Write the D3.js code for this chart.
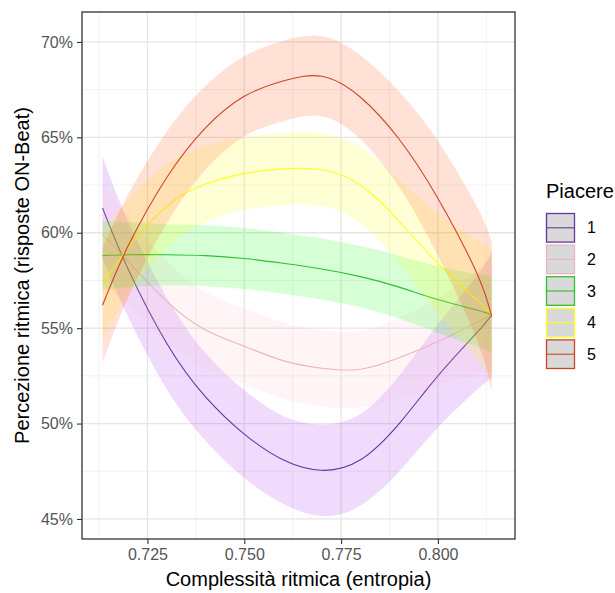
<!DOCTYPE html>
<html>
<head>
<meta charset="utf-8">
<script src="https://cdn.jsdelivr.net/npm/d3@7"></script>
<style>
  html, body { margin: 0; padding: 0; background: #ffffff; }
  svg { display: block; font-family: "Liberation Sans", Arial, sans-serif; }
</style>
</head>
<body>
<svg id="chart" width="615" height="593"></svg>
<script>
// ---- data ----
const xValues = [0.7134, 0.72, 0.73, 0.74, 0.75, 0.76, 0.77, 0.78, 0.79, 0.80, 0.81, 0.8139];
const groups = ["1", "2", "3", "4", "5"];
const lineColors = ["#5e3a9e", "#efb3bd", "#2fbf2f", "#ffff1a", "#cf4426"];
const fillColors = ["#a020f0", "#ffc0cb", "#00ff00", "#ffff00", "#ff4500"];

const fit1 = [61.3, 58.1, 54.2, 51.4, 49.45, 48.1, 47.55, 48.1, 50.0, 52.5, 54.75, 55.7];
const se1  = [2.7, 2.5, 2.4, 2.3, 2.3, 2.3, 2.4, 2.4, 2.5, 2.7, 3.0, 3.3];
const fit2 = [59.9, 58.5, 56.4, 54.9, 54.05, 53.3, 52.9, 52.85, 53.45, 54.3, 55.3, 55.7];
const se2  = [2.6, 2.3, 2.1, 2.0, 2.0, 2.0, 2.0, 2.0, 2.1, 2.3, 2.7, 3.1];
const fit3 = [58.8, 58.85, 58.85, 58.8, 58.65, 58.4, 58.1, 57.7, 57.15, 56.5, 55.95, 55.7];
const se3  = [1.8, 1.7, 1.6, 1.6, 1.6, 1.6, 1.6, 1.6, 1.65, 1.75, 1.9, 2.0];
const fit4 = [57.3, 59.2, 61.4, 62.55, 63.1, 63.35, 63.3, 62.5, 60.6, 58.4, 56.5, 55.7];
const se4  = [2.8, 2.5, 2.2, 2.0, 1.9, 1.9, 1.9, 2.0, 2.2, 2.6, 3.1, 3.5];
const fit5 = [56.2, 59.3, 62.9, 65.5, 67.15, 67.95, 68.2, 67.1, 64.9, 61.8, 57.9, 55.6];
const se5  = [3.0, 2.7, 2.4, 2.2, 2.1, 2.1, 2.1, 2.2, 2.5, 3.0, 3.5, 3.9];

const fits = [fit1, fit2, fit3, fit4, fit5];
const ses = [se1, se2, se3, se4, se5];

const xTicks = [0.725, 0.75, 0.775, 0.80];
const yTicks = [45, 50, 55, 60, 65, 70];
const xMinor = [0.7125, 0.7375, 0.7625, 0.7875, 0.8125];
const yMinor = [47.5, 52.5, 57.5, 62.5, 67.5];

const xTitle = "Complessità ritmica (entropia)";
const yTitle = "Percezione ritmica (risposte ON-Beat)";
const legendTitle = "Piacere";

// ---- layout ----
const panel = { left: 82, top: 12, right: 515, bottom: 539 };
const svg = d3.select("#chart");

const x = d3.scaleLinear().domain([0.7081, 0.8199]).range([panel.left, panel.right]);
const y = d3.scaleLinear().domain([43.95, 71.57]).range([panel.bottom, panel.top]);

svg.append("rect")
  .attr("x", panel.left).attr("y", panel.top)
  .attr("width", panel.right - panel.left).attr("height", panel.bottom - panel.top)
  .attr("fill", "#ffffff");

const grid = svg.append("g");
grid.selectAll(".xminor").data(xMinor).join("line")
  .attr("x1", d => x(d)).attr("x2", d => x(d))
  .attr("y1", panel.top).attr("y2", panel.bottom)
  .attr("stroke", "#ededed").attr("stroke-width", 0.8);
grid.selectAll(".yminor").data(yMinor).join("line")
  .attr("y1", d => y(d)).attr("y2", d => y(d))
  .attr("x1", panel.left).attr("x2", panel.right)
  .attr("stroke", "#ededed").attr("stroke-width", 0.8);
grid.selectAll(".xmajor").data(xTicks).join("line")
  .attr("x1", d => x(d)).attr("x2", d => x(d))
  .attr("y1", panel.top).attr("y2", panel.bottom)
  .attr("stroke", "#e5e5e5").attr("stroke-width", 1.3);
grid.selectAll(".ymajor").data(yTicks).join("line")
  .attr("y1", d => y(d)).attr("y2", d => y(d))
  .attr("x1", panel.left).attr("x2", panel.right)
  .attr("stroke", "#e5e5e5").attr("stroke-width", 1.3);

const area = d3.area().x(d => x(d.x)).y0(d => y(d.lo)).y1(d => y(d.hi)).curve(d3.curveNatural);
const line = d3.line().x(d => x(d.x)).y(d => y(d.fit)).curve(d3.curveNatural);

const marks = svg.append("g");
groups.forEach((g, i) => {
  const pts = xValues.map((xv, j) => ({ x: xv, fit: fits[i][j], lo: fits[i][j] - ses[i][j], hi: fits[i][j] + ses[i][j] }));
  marks.append("path").datum(pts)
    .attr("d", area)
    .attr("fill", fillColors[i]).attr("fill-opacity", 0.16);
  marks.append("path").datum(pts)
    .attr("d", line)
    .attr("fill", "none").attr("stroke", lineColors[i]).attr("stroke-width", 1.1);
});

svg.append("rect")
  .attr("x", panel.left).attr("y", panel.top)
  .attr("width", panel.right - panel.left).attr("height", panel.bottom - panel.top)
  .attr("fill", "none").attr("stroke", "#333333").attr("stroke-width", 1.3);

const xAxis = svg.append("g").attr("transform", `translate(0,${panel.bottom})`)
  .call(d3.axisBottom(x).tickValues(xTicks).tickFormat(d3.format(".3f")).tickSize(5).tickPadding(5));
const yAxis = svg.append("g").attr("transform", `translate(${panel.left},0)`)
  .call(d3.axisLeft(y).tickValues(yTicks).tickFormat(d => d + "%").tickSize(5).tickPadding(4));
[xAxis, yAxis].forEach(a => {
  a.select(".domain").remove();
  a.selectAll(".tick line").attr("stroke", "#333333").attr("stroke-width", 1.1);
  a.selectAll(".tick text").attr("fill", "#555555").attr("font-size", 16)
    .attr("font-family", "Liberation Sans, Arial, sans-serif");
});

svg.append("text")
  .attr("x", (panel.left + panel.right) / 2).attr("y", 586)
  .attr("text-anchor", "middle").attr("font-size", 20).attr("fill", "#000")
  .text(xTitle);
svg.append("text")
  .attr("transform", `translate(29,${(panel.top + panel.bottom) / 2}) rotate(-90)`)
  .attr("text-anchor", "middle").attr("font-size", 20).attr("fill", "#000")
  .text(yTitle);

const leg = svg.append("g");
leg.append("text").attr("x", 546).attr("y", 198).attr("font-size", 20).attr("fill", "#000").text(legendTitle);
const keyTop = 212, keyH = 31.6, keyX = 545, keyW = 31;
groups.forEach((g, i) => {
  const y0 = keyTop + i * keyH;
  leg.append("rect").attr("x", keyX).attr("y", y0).attr("width", keyW).attr("height", keyH).attr("fill", "#ffffff");
  leg.append("rect").attr("x", keyX + 1.5).attr("y", y0 + 1.5).attr("width", keyW - 3).attr("height", keyH - 3)
    .attr("fill", "#d9d9d9").attr("stroke", lineColors[i]).attr("stroke-width", 1.3);
  leg.append("line").attr("x1", keyX + 1.5).attr("x2", keyX + keyW - 1.5)
    .attr("y1", y0 + keyH / 2).attr("y2", y0 + keyH / 2)
    .attr("stroke", lineColors[i]).attr("stroke-width", 1.1);
  leg.append("text").attr("x", 587).attr("y", y0 + keyH / 2).attr("dy", "0.35em")
    .attr("font-size", 16).attr("fill", "#000").text(g);
});
</script>
</body>
</html>
